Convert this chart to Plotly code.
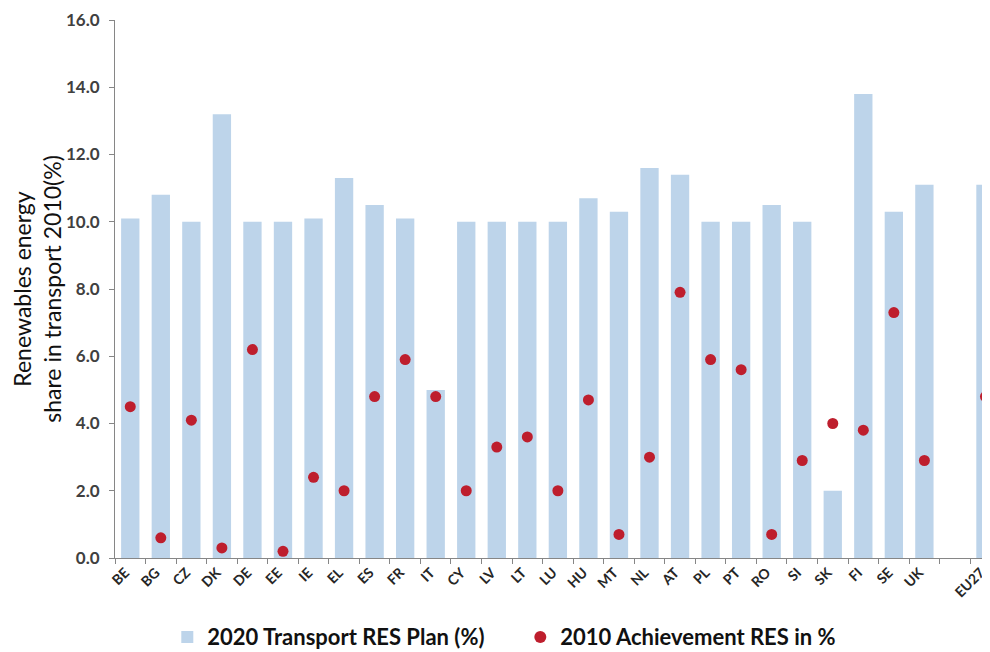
import plotly.graph_objects as go

categories = ["BE", "BG", "CZ", "DK", "DE", "EE", "IE", "EL", "ES", "FR", "IT", "CY", "LV", "LT",
              "LU", "HU", "MT", "NL", "AT", "PL", "PT", "RO", "SI", "SK", "FI", "SE", "UK", " ", "EU27"]

plan_2020 = [10.1, 10.8, 10.0, 13.2, 10.0, 10.0, 10.1, 11.3, 10.5, 10.1, 5.0, 10.0, 10.0, 10.0,
             10.0, 10.7, 10.3, 11.6, 11.4, 10.0, 10.0, 10.5, 10.0, 2.0, 13.8, 10.3, 11.1, None, 11.1]

achievement_2010 = [4.5, 0.6, 4.1, 0.3, 6.2, 0.2, 2.4, 2.0, 4.8, 5.9, 4.8, 2.0, 3.3, 3.6,
                    2.0, 4.7, 0.7, 3.0, 7.9, 5.9, 5.6, 0.7, 2.9, 4.0, 3.8, 7.3, 2.9, None, 4.8]

font_family = "Lato, Open Sans, sans-serif"

fig = go.Figure()
fig.add_trace(go.Bar(
    x=categories, y=plan_2020, name="2020 Transport RES Plan (%)",
    marker=dict(color="#BDD4EA", line=dict(width=0)),
))
fig.add_trace(go.Scatter(
    x=categories, y=achievement_2010, name="2010 Achievement RES in %",
    mode="markers", marker=dict(color="#BE1E2D", size=11),
))

fig.update_layout(
    width=990, height=652,
    margin=dict(l=107, r=0, t=12, b=102),
    paper_bgcolor="white", plot_bgcolor="white",
    bargap=0.4,
    font=dict(family=font_family, color="#404040"),
    showlegend=True,
    legend=dict(orientation="h", x=0.459, xanchor="center", y=-0.147, yanchor="middle",
                font=dict(size=22, color="#111111", weight="bold"),
                itemsizing="constant", traceorder="normal", itemwidth=30,
                entrywidth=308, entrywidthmode="pixels"),
)
fig.update_xaxes(
    type="category", range=[-0.5, 28.41], automargin=False,
    showline=True, linecolor="#868686", linewidth=1,
    ticks="outside", tickson="boundaries", ticklen=5, tickcolor="#868686",
    tickangle=-45, ticklabelshift=-5,
    tickfont=dict(size=14, color="#262626", weight="bold"),
    showgrid=False, zeroline=False,
)
fig.update_yaxes(
    range=[0, 16], dtick=2, tickformat=".1f", automargin=False,
    showline=True, linecolor="#868686", linewidth=1,
    ticks="outside", ticklen=5, tickcolor="#868686", ticklabelstandoff=6,
    tickfont=dict(size=17, color="#404040", weight="bold"),
    showgrid=False, zeroline=False,
    title=dict(text="Renewables energy<br>share in transport 2010(%)",
               font=dict(size=23, color="#111111"), standoff=12),
)

fig.write_html("out.html")
